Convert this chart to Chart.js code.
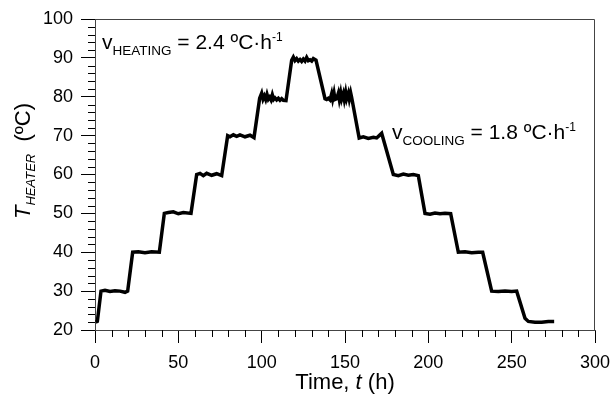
<!DOCTYPE html>
<html>
<head>
<meta charset="utf-8">
<script src="https://cdn.jsdelivr.net/npm/chart.js@4.4.1/dist/chart.umd.min.js"></script>
<style>
  html, body { margin: 0; padding: 0; background: #fff; }
  #wrap { width: 610px; height: 394px; }
</style>
</head>
<body>
<div id="wrap"><canvas id="Chart"></canvas></div>
<script>
// heater temperature program (time in h, T in ºC)
const timeH = [
	0.4, 1.4, 3.6, 6, 9, 12, 15, 18, 19.6,
	22.6, 26, 30, 34, 38.6,
	41.6, 44, 47, 50, 53, 57.6,
	61, 63, 65, 67, 70, 73, 76,
	79.6, 81, 83, 85, 87, 90, 93, 95.4,
	98.8, 100, 100.8, 101.6, 102.4, 103.2, 104, 104.8, 105.6, 106.4, 107.2, 108, 109, 110, 111, 112, 113, 114.6,
	118, 119, 120, 121, 122, 123, 124, 125, 126, 127, 128, 129, 130, 131, 132.6,
	138, 139, 140, 141, 142, 142.6, 143.4, 144, 145, 146, 146.6, 147.4, 148, 149, 149.6, 150.4, 151, 152, 152.6, 153.4, 154,
	158.5, 161, 164, 167, 169, 171, 172,
	179, 182, 185, 188, 191, 194,
	198, 201, 204, 207, 210, 213.4,
	218, 222, 226, 230, 232.6,
	238, 242, 246, 250, 253,
	258, 260, 264, 268, 272, 275.5
];
const tempC = [
	22.0, 22.2, 30.0, 30.2, 29.9, 30.1, 30.0, 29.7, 30.0,
	40.0, 40.1, 39.9, 40.1, 40.0,
	50.0, 50.2, 50.4, 49.9, 50.2, 50.0,
	60.0, 60.3, 59.7, 60.3, 59.8, 60.2, 59.7,
	70.0, 69.7, 70.2, 69.8, 70.2, 69.7, 70.1, 69.5,
	79.6, 80.9, 79.4, 80.2, 79.3, 80.6, 79.4, 79.9, 79.2, 80.5, 79.3, 79.7, 79.2, 79.6, 79.1, 79.5, 79.1, 79.0,
	89.4, 90.2, 89.3, 89.8, 89.2, 89.6, 89.1, 89.7, 89.2, 90.1, 89.3, 89.5, 89.2, 89.8, 89.4,
	79.5, 79.3, 79.6, 79.2, 80.8, 79.4, 81.0, 79.3, 79.5, 80.9, 79.3, 81.0, 79.4, 80.8, 79.3, 81.1, 79.5, 80.9, 79.4, 81.0, 79.8,
	69.4, 69.7, 69.3, 69.6, 69.4, 70.2, 70.6,
	60.0, 59.7, 60.1, 59.8, 60.0, 59.7,
	50.0, 49.8, 50.1, 49.9, 50.0, 49.9,
	40.0, 40.1, 39.9, 40.0, 40.0,
	30.0, 29.9, 30.0, 29.9, 30.0,
	23.0, 22.2, 22.0, 22.0, 22.2, 22.2
];
const xTicks = [0, 50, 100, 150, 200, 250, 300];
const yTicks = [20, 30, 40, 50, 60, 70, 80, 90, 100];

const FONT = "'Liberation Sans', Arial, sans-serif";

// minor ticks, frame, axis titles and the two rate notes
const extras = {
	id: 'extras',
	afterDraw(chart) {
		const ctx = chart.ctx;
		const a = chart.chartArea;
		const xs = chart.scales.x, ys = chart.scales.y;
		ctx.save();
		ctx.strokeStyle = '#000';
		ctx.lineWidth = 1;
		ctx.beginPath();
		for (let t = 0; t <= 300; t += 10) {
			if (t % 50 === 0) continue;
			const px = Math.round(xs.getPixelForValue(t)) + 0.5;
			ctx.moveTo(px, a.bottom);
			ctx.lineTo(px, a.bottom + 7);
		}
		for (let v = 20; v <= 100; v += 2) {
			if (v % 10 === 0) continue;
			const py = Math.round(ys.getPixelForValue(v)) + 0.5;
			ctx.moveTo(a.left - 7, py);
			ctx.lineTo(a.left, py);
		}
		ctx.stroke();
		// top and right frame
		ctx.strokeStyle = '#444';
		ctx.beginPath();
		ctx.moveTo(a.left, a.top + 0.5);
		ctx.lineTo(a.right - 0.5, a.top + 0.5);
		ctx.lineTo(a.right - 0.5, a.bottom);
		ctx.stroke();

		ctx.fillStyle = '#000';
		ctx.textBaseline = 'alphabetic';
		// runs of [text, size, italic, dy]
		function drawRuns(runs, x, y, align) {
			let w = 0;
			runs.forEach(r => {
				ctx.font = (r[2] ? 'italic ' : '') + r[1] + 'px ' + FONT;
				w += ctx.measureText(r[0]).width;
			});
			let cx = align === 'center' ? x - w / 2 : x;
			runs.forEach(r => {
				ctx.font = (r[2] ? 'italic ' : '') + r[1] + 'px ' + FONT;
				ctx.fillText(r[0], cx, y + r[3]);
				cx += ctx.measureText(r[0]).width;
			});
		}
		// x title
		drawRuns([['Time, ', 22, false, 0], ['t', 22, true, 0], [' (h)', 22, false, 0]],
			(a.left + a.right) / 2, 389, 'center');
		// y title
		ctx.save();
		ctx.translate(30, 161);
		ctx.rotate(-Math.PI / 2);
		drawRuns([['T', 22, true, 0], ['HEATER', 13, true, 5], ['  (ºC)', 22, false, 0]], 0, 0, 'center');
		ctx.restore();
		// rate notes
		drawRuns([['v', 21, false, 0], ['HEATING', 13.5, false, 6], [' = 2.4 ºC·h', 21, false, 0], ['-1', 12, false, -8]],
			xs.getPixelForValue(4.2), ys.getPixelForValue(92.35), 'left');
		drawRuns([['v', 21, false, 0], ['COOLING', 13.5, false, 6], [' = 1.8 ºC·h', 21, false, 0], ['-1', 12, false, -8]],
			xs.getPixelForValue(178.2), ys.getPixelForValue(69.2), 'left');
		ctx.restore();
	}
};

const points = timeH.map((t, i) => ({ x: t, y: tempC[i] }));

let lineCtx = document.getElementById("Chart");
let lineConfig = {
	type: 'scatter',
	data: {
		datasets: [{
			data: points,
			showLine: true,
			borderColor: '#000',
			borderWidth: 3.5,
			pointRadius: 0,
			tension: 0,
		}],
	},
	options: {
		responsive: true,
		maintainAspectRatio: false,
		animation: false,
		devicePixelRatio: 1,
		layout: { padding: { top: 19, right: 15, left: 0, bottom: 0 } },
		plugins: { legend: { display: false }, tooltip: { enabled: false } },
		scales: {
			x: {
				type: 'linear',
				min: 0, max: 300,
				afterBuildTicks: s => { s.ticks = xTicks.map(v => ({ value: v })); },
				afterFit: s => { s.height = 64; s.paddingLeft = 0; s.paddingRight = 0; },
				ticks: { color: '#000', font: { family: FONT, size: 18 }, padding: 9, maxRotation: 0 },
				grid: { drawOnChartArea: false, tickLength: 13, color: '#000', tickColor: '#000' },
				border: { color: '#444' },
			},
			y: {
				min: 20, max: 100,
				afterBuildTicks: s => { s.ticks = yTicks.map(v => ({ value: v })); },
				afterFit: s => { s.width = 95; s.paddingTop = 0; s.paddingBottom = 0; },
				ticks: { color: '#000', font: { family: FONT, size: 18 }, padding: 8 },
				grid: { drawOnChartArea: false, tickLength: 14, color: '#000', tickColor: '#000' },
				border: { color: '#444' },
			}
		},
	},
	plugins: [extras],
};
let lineChart = new Chart(lineCtx, lineConfig);
</script>
</body>
</html>
